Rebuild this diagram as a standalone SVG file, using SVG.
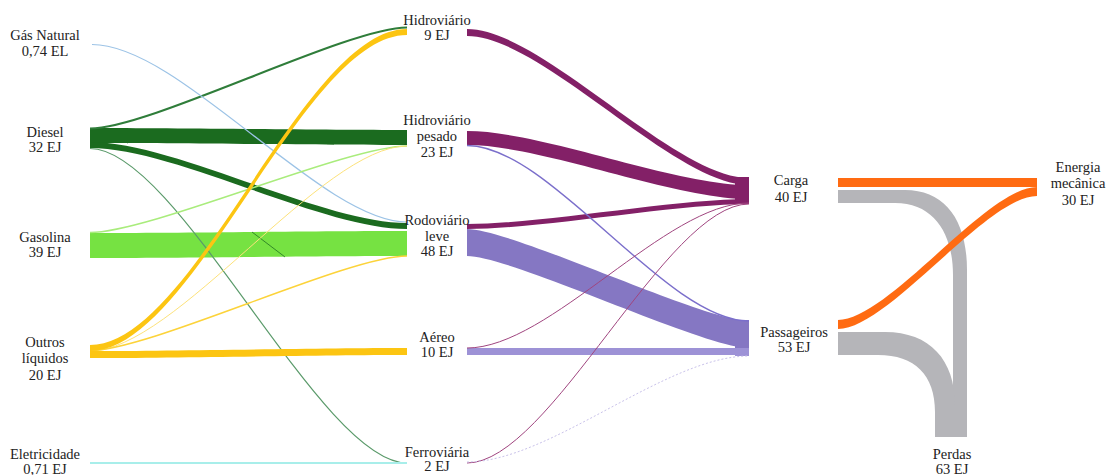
<svg xmlns="http://www.w3.org/2000/svg" width="1107" height="475" viewBox="0 0 1107 475">
<style>
text{font-family:"Liberation Serif","Times New Roman",serif;font-size:14.5px;fill:#222;text-anchor:middle}
.dg{fill:#1b6b1f}.lg{fill:#76e242}.ye{fill:#fcc512}.pu{fill:#832067}.la{fill:#8577c3}.ll{fill:#9d92d6}.or{fill:#ff6b12}.gr{fill:#b5b5b9}
.ln{fill:none}
</style>
<rect width="1107" height="475" fill="#fff"/>
<g id="connectors">
  <!-- left column to middle column -->
  <path class="dg" d="M90,128 C175,128 322,130 407,130 L407,145 C322,145 175,143 90,143 Z"/>
  <path class="lg" d="M90,233 C175,233 322,231 407,231 L407,256 C322,256 175,258 90,258 Z"/>
  <path class="ln" stroke="#1b6b1f" stroke-width="1" opacity="0.75" d="M252,232 L285,257"/>
  <path class="dg" d="M90,142 C175,142 322,223 407,223 L407,229 C322,229 175,148 90,148 Z"/>
  <path class="ln" stroke="#2f7d3a" stroke-width="2" d="M90,128.5 C150,128.5 347,27.5 407,27.5"/>
  <path class="ln" stroke="#9cc3e6" stroke-width="1.2" d="M92,44.5 C180,44.5 322,222 407,222"/>
  <path class="ln" stroke="#5a9a6a" stroke-width="1.2" d="M90,148.5 C178,148.5 320,463 407,463"/>
  <path class="ln" stroke="#a9ec7c" stroke-width="1.5" d="M90,232.5 C150,232.5 347,146 407,146"/>
  <path class="ln" stroke="#fde27a" stroke-width="1" d="M90,351 C175,351 322,146 407,146"/>
  <path class="ln" stroke="#fcd33a" stroke-width="1.6" d="M90,350.5 C150,350.5 347,256 407,256"/>
  <path class="ye" d="M90,351 C175,351 322,348 407,348 L407,355 C322,355 175,358 90,358 Z"/>
  <path class="ln" stroke="#a8eeea" stroke-width="2" d="M90,463 L407,463"/>
  <path class="ye" d="M90,345 C194,345 303,29 407,29 L407,35 C303,35 194,351 90,351 Z"/>
  <!-- middle column to Carga / Passageiros -->
  <path class="pu" d="M467,29 C542,29 674,178 749,178 L749,185 C674,185 542,36 467,36 Z"/>
  <path class="pu" d="M467,131 C542,131 674,185 749,185 L749,199 C674,199 542,145 467,145 Z"/>
  <path class="pu" d="M467,224 C542,224 674,199 749,199 L749,204 C674,204 542,229 467,229 Z"/>
  <path class="la" d="M467,229 C512,229 704,321 749,321 L749,348 C704,348 512,256 467,256 Z"/>
  <path class="ll" d="M467,348 L749,348 L749,355 L467,355 Z"/>
  <rect class="pu" x="735" y="177" width="14" height="27"/>
  <rect class="la" x="735" y="320" width="14" height="29"/>
  <rect class="ll" x="735" y="348" width="14" height="8"/>
  <path class="ln" stroke="#7b6fcb" stroke-width="1.4" d="M467,145.5 C550,145.5 666,321 749,321"/>
  <path class="ln" stroke="#a0457f" stroke-width="1" d="M467,348 C550,348 666,203 749,203"/>
  <path class="ln" stroke="#a0457f" stroke-width="1" d="M467,463 C550,463 666,204 749,204"/>
  <path class="ln" stroke="#c9c2ea" stroke-width="1" stroke-dasharray="2 2" d="M467,462 C550,462 666,356 749,356"/>
  <!-- Carga / Passageiros to outputs -->
  <path class="gr" d="M838,190 H905 C945,190 967,220 967,270 V437 H953 V275 C953,235 935,203 895,203 H838 Z"/>
  <path class="gr" d="M838,332 H885 C930,332 955,360 955,405 V437 H935 V412 C935,375 915,355 878,355 H838 Z"/>
  <path class="or" d="M838,178 H1037 V187 H838 Z"/>
  <path class="or" d="M838,320 C888,320 987,187 1037,187 L1037,196 C987,196 888,329 838,329 Z"/>
</g>
<g id="gas-natural"><text x="45" y="40">Gás Natural</text><text x="45" y="56">0,74 EL</text></g>
<g id="diesel"><text x="45" y="137">Diesel</text><text x="45" y="152">32 EJ</text></g>
<g id="gasolina"><text x="45" y="242">Gasolina</text><text x="45" y="257">39 EJ</text></g>
<g id="outros-liquidos"><text x="45" y="347">Outros</text><text x="45" y="363">líquidos</text><text x="45" y="380">20 EJ</text></g>
<g id="eletricidade"><text x="45" y="459">Eletricidade</text><text x="45" y="474">0,71 EJ</text></g>
<g id="hidroviario"><text x="437" y="25">Hidroviário</text><text x="437" y="40">9 EJ</text></g>
<g id="hidroviario-pesado"><text x="437" y="125">Hidroviário</text><text x="437" y="141">pesado</text><text x="437" y="157">23 EJ</text></g>
<g id="rodoviario-leve"><text x="437" y="225">Rodoviário</text><text x="437" y="241">leve</text><text x="437" y="256">48 EJ</text></g>
<g id="aereo"><text x="437" y="342">Aéreo</text><text x="437" y="357">10 EJ</text></g>
<g id="ferroviaria"><text x="437" y="457">Ferroviária</text><text x="437" y="471">2 EJ</text></g>
<g id="carga"><text x="791" y="185">Carga</text><text x="791" y="202">40 EJ</text></g>
<g id="passageiros"><text x="794" y="337">Passageiros</text><text x="794" y="352">53 EJ</text></g>
<g id="energia-mecanica"><text x="1078" y="172">Energia</text><text x="1078" y="188">mecânica</text><text x="1078" y="205">30 EJ</text></g>
<g id="perdas"><text x="952" y="459">Perdas</text><text x="952" y="474">63 EJ</text></g>
</svg>
